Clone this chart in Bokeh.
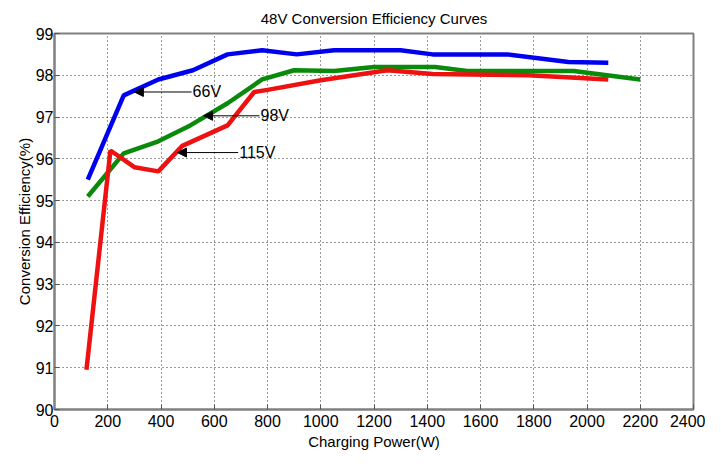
from bokeh.plotting import figure
from bokeh.models import Arrow, NormalHead, Label, SingleIntervalTicker
from bokeh.embed import file_html
from bokeh.resources import INLINE

# Data
power_66 = [125, 260, 390, 520, 650, 780, 910, 1050, 1300, 1420, 1700, 1930, 2080]
eff_66 = [95.5, 97.52, 97.9, 98.12, 98.5, 98.6, 98.5, 98.6, 98.6, 98.5, 98.5, 98.32, 98.3]

power_98 = [125, 260, 390, 510, 650, 780, 900, 1050, 1200, 1430, 1550, 1950, 2200]
eff_98 = [95.1, 96.13, 96.42, 96.8, 97.33, 97.9, 98.12, 98.1, 98.2, 98.2, 98.1, 98.1, 97.9]

power_115 = [120, 210, 300, 390, 480, 650, 750, 800, 1000, 1250, 1420, 1780, 2080]
eff_115 = [90.95, 96.2, 95.8, 95.7, 96.31, 96.8, 97.6, 97.65, 97.88, 98.12, 98.03, 98.0, 97.9]

ann_labels = ["66V", "98V", "115V"]
ann_head_x = [300, 560, 462]
ann_head_y = [97.6, 97.03, 96.15]
ann_tail_x = [515, 770, 690]

title = "48V Conversion Efficiency Curves"
x_label = "Charging Power(W)"
y_label = "Conversion Efficiency(%)"

FONT = "Liberation Sans"

p = figure(width=705, height=452, output_backend="svg", toolbar_location=None,
           x_range=(0, 2400), y_range=(90, 99), title=title,
           min_border_left=54, min_border_right=12, min_border_top=10, min_border_bottom=0)

p.title.align = "center"
p.title.text_font = FONT
p.title.text_font_size = "15px"
p.title.text_font_style = "normal"
p.title.text_color = "black"
p.title.standoff = 14

p.line(power_66, eff_66, line_color="#0000F0", line_width=4.5)
p.line(power_98, eff_98, line_color="#0A8A0A", line_width=4.5)
p.line(power_115, eff_115, line_color="#EE1111", line_width=4.5)

for lab, hx, hy, tx in zip(ann_labels, ann_head_x, ann_head_y, ann_tail_x):
    p.add_layout(Arrow(end=NormalHead(size=9, fill_color="black", line_color="black"),
                       x_start=tx, y_start=hy, x_end=hx, y_end=hy,
                       line_color="black", line_width=1))
    p.add_layout(Label(x=tx, y=hy, text=lab, text_font=FONT, text_font_size="16px",
                       text_color="black", text_baseline="middle", text_align="left",
                       x_offset=1))

p.xaxis.ticker = SingleIntervalTicker(interval=200)
p.yaxis.ticker = SingleIntervalTicker(interval=1)
for ax in [p.xaxis[0], p.yaxis[0]]:
    ax.major_tick_in = 5
    ax.major_tick_out = 0
    ax.minor_tick_in = 0
    ax.minor_tick_out = 0
    ax.axis_line_color = "#808080"
    ax.axis_line_width = 2
    ax.major_tick_line_color = "#555555"
    ax.major_label_text_font = FONT
    ax.major_label_text_font_size = "16px"
    ax.major_label_text_color = "black"
    ax.major_label_text_line_height = 1.0
    ax.axis_label_text_font = FONT
    ax.axis_label_text_font_size = "15px"
    ax.axis_label_text_font_style = "normal"
    ax.axis_label_text_color = "black"
    ax.axis_label_text_line_height = 1.0
    ax.major_label_standoff = 1
    ax.axis_label_standoff = 0

p.xaxis.major_label_standoff = 5
p.xaxis.axis_label_standoff = 3

p.xaxis.axis_label = x_label
p.yaxis.axis_label = y_label

p.grid.grid_line_color = "#333333"
p.grid.grid_line_dash = "1 3"
p.grid.grid_line_width = 1
p.outline_line_color = "#808080"
p.outline_line_width = 2
p.background_fill_color = "white"
p.border_fill_color = "white"

open("out.html", "w").write(file_html(p, INLINE))
